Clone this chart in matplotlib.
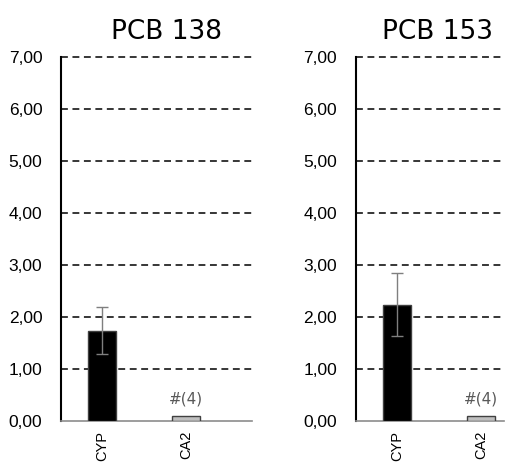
import matplotlib
matplotlib.use("Agg")
import matplotlib.pyplot as plt
from matplotlib.ticker import FuncFormatter

# Datos
grupos = ["CYP", "CA2"]
titulos = ["PCB 138", "PCB 153"]
medias = [[1.74, 0.09], [2.24, 0.09]]
errores = [[0.46, 0.0], [0.60, 0.0]]
etiquetas = [["", "#(4)"], ["", "#(4)"]]
colores = ["black", "#bfbfbf"]
yticks = [0, 1, 2, 3, 4, 5, 6, 7]

fig = plt.figure(figsize=(5.14, 4.62), dpi=100)
posiciones = [[0.1187, 0.0887, 0.3716, 0.7879],
              [0.6926, 0.0887, 0.2880, 0.7879]]
xlims = [(-0.488, 1.786), (-0.488, 1.27)]

fmt = FuncFormatter(lambda v, p: f"{v:.2f}".replace(".", ","))

for i in range(2):
    ax = fig.add_axes(posiciones[i])
    x = list(range(len(grupos)))
    ax.bar(x, medias[i], width=0.33, color=colores, edgecolor="#404040",
           linewidth=1, zorder=3)
    for j in x:
        if errores[i][j] > 0:
            ax.errorbar(j, medias[i][j], yerr=errores[i][j], fmt="none",
                        ecolor="#7f7f7f", elinewidth=1, capsize=4, zorder=4)
        if etiquetas[i][j]:
            ax.text(j, 0.43, etiquetas[i][j], ha="center", va="center",
                    fontsize=11, color="#595959")

    # Líneas de cuadrícula discontinuas
    for t in yticks[1:]:
        ax.axhline(t, color="black", linestyle=(0, (4.5, 3)), linewidth=1.1,
                   zorder=1, clip_on=False)

    ax.set_xlim(*xlims[i])
    ax.set_ylim(0, 7)
    ax.set_yticks(yticks)
    ax.yaxis.set_major_formatter(fmt)
    ax.set_xticks(x)
    ax.set_xticklabels(grupos, rotation=90, fontsize=10.5,
                       family="Liberation Sans")
    for lab in ax.get_yticklabels():
        lab.set_family("Liberation Sans")
        lab.set_fontsize(12.5)
    ax.tick_params(axis="y", length=0, pad=13.5)
    ax.tick_params(axis="x", length=0, pad=7)
    ax.spines["top"].set_visible(False)
    ax.spines["right"].set_visible(False)
    ax.spines["left"].set_color("black")
    ax.spines["left"].set_linewidth(1.5)
    ax.spines["bottom"].set_color("#8c8c8c")
    ax.spines["bottom"].set_linewidth(1.2)
    ax.set_title(titulos[i], fontsize=19, pad=13, x=0.55)

plt.savefig("out.png", dpi=100)
